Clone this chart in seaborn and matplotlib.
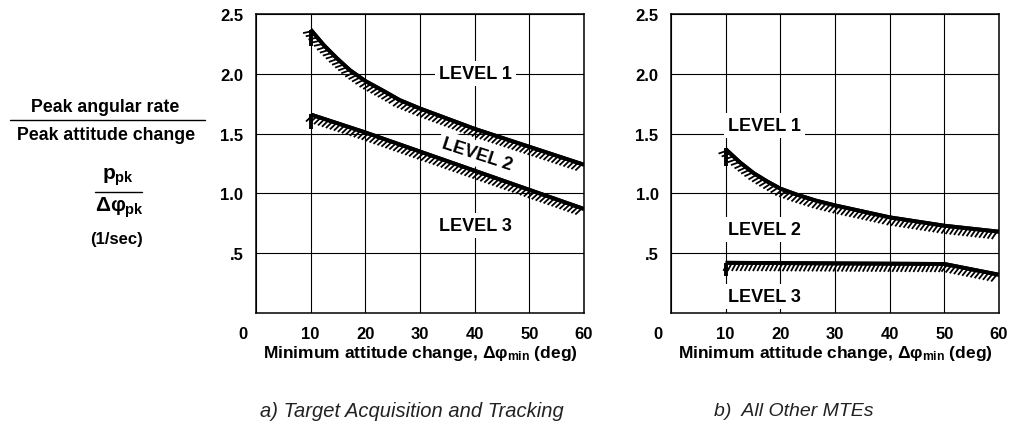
import numpy as np
import pandas as pd
import matplotlib
matplotlib.use("Agg")
import matplotlib.pyplot as plt
import matplotlib.patheffects as pe
from matplotlib.lines import Line2D
from matplotlib.transforms import ScaledTranslation
import seaborn as sns

# boundary data (x = min attitude change, deg)
# a) Target Acquisition and Tracking
a_l1_x = [10, 12.4, 14.8, 17.2, 20, 23.6, 26.3, 30, 40, 50, 60]
a_l1_y = [2.37, 2.24, 2.13, 2.03, 1.94, 1.85, 1.78, 1.71, 1.54, 1.39, 1.24]
a_l2_x = [10, 20, 30, 40, 50, 60]
a_l2_y = [1.66, 1.51, 1.35, 1.19, 1.03, 0.87]

# b) All Other MTEs
b_l1_x = [10, 12.6, 15.1, 17.6, 20, 23, 26.5, 30, 35, 40, 50, 60]
b_l1_y = [1.37, 1.26, 1.17, 1.10, 1.04, 0.99, 0.94, 0.90, 0.85, 0.80, 0.73, 0.68]
b_l2_x = [10, 50, 60]
b_l2_y = [0.42, 0.41, 0.32]

# short vertical stubs where each boundary starts (x = 10)
a_stub_y = [(2.23, 2.37), (1.54, 1.66)]
b_stub_y = [(1.23, 1.38), (0.31, 0.42)]

x_ticks = [0, 10, 20, 30, 40, 50, 60]
y_ticks = [0.5, 1.0, 1.5, 2.0, 2.5]
y_ticklabels = [".5", "1.0", "1.5", "2.0", "2.5"]

sns.set_style("white")
plt.rcParams["font.family"] = ["Liberation Sans", "DejaVu Sans"]
plt.rcParams["text.color"] = "black"
plt.rcParams["axes.labelcolor"] = "black"
plt.rcParams["xtick.color"] = "black"
plt.rcParams["ytick.color"] = "black"
plt.rcParams["mathtext.fontset"] = "custom"
plt.rcParams["mathtext.rm"] = "Liberation Sans:bold"
plt.rcParams["mathtext.it"] = "Liberation Sans:bold"
plt.rcParams["mathtext.bf"] = "Liberation Sans:bold"

fig = plt.figure(figsize=(10.13, 4.27), dpi=100)
ax_a = fig.add_axes([0.2527, 0.2646, 0.3238, 0.7002])
ax_b = fig.add_axes([0.6624, 0.2646, 0.3238, 0.7002])

hatch = [pe.withTickedStroke(spacing=3.0, angle=-118, length=2.2, linewidth=1.3),
         pe.Normal()]


def boundary(ax, xs, ys):
    df = pd.DataFrame({"x": xs, "y": ys})
    sns.lineplot(data=df, x="x", y="y", ax=ax, sort=False, estimator=None,
                 color="black", linewidth=2.8, solid_capstyle="butt",
                 path_effects=hatch, zorder=4)


def stub(ax, y0, y1):
    df = pd.DataFrame({"x": [10, 10], "y": [y0, y1]})
    sns.lineplot(data=df, x="x", y="y", ax=ax, sort=False, estimator=None,
                 color="black", linewidth=2.8, solid_capstyle="butt", zorder=4)


def style_axes(ax):
    ax.set_xlim(0, 60)
    ax.set_ylim(0, 2.5)
    ax.set_xticks(x_ticks)
    ax.set_yticks(y_ticks)
    ax.set_yticklabels(y_ticklabels)
    ax.grid(True, color="black", linewidth=0.8)
    ax.set_axisbelow(True)
    for s in ax.spines.values():
        s.set_color("black")
        s.set_linewidth(1.1)
    ax.tick_params(length=0, labelsize=12, pad=9)
    for lab in ax.get_xticklabels() + ax.get_yticklabels():
        lab.set_fontweight("bold")
    # the "0" sits at the corner of the frame
    zero = ax.get_xticklabels()[0]
    zero.set_transform(zero.get_transform() + ScaledTranslation(-0.13, 0, fig.dpi_scale_trans))
    ax.set_xlabel(r"Minimum attitude change, $\Delta\varphi_{min}$ (deg)",
                  fontsize=12.5, fontweight="bold", labelpad=2)
    ax.set_ylabel("")


boundary(ax_a, a_l1_x, a_l1_y)
boundary(ax_a, a_l2_x, a_l2_y)
boundary(ax_b, b_l1_x, b_l1_y)
boundary(ax_b, b_l2_x, b_l2_y)
for y0, y1 in a_stub_y:
    stub(ax_a, y0, y1)
for y0, y1 in b_stub_y:
    stub(ax_b, y0, y1)
style_axes(ax_a)
style_axes(ax_b)

box = dict(facecolor="white", edgecolor="none", pad=3)
lvl = dict(fontsize=13, fontweight="bold", zorder=5, bbox=box)
ax_a.text(40.2, 2.0, "LEVEL 1", ha="center", va="center", **lvl)
ax_a.text(40.5, 1.33, "LEVEL 2", ha="center", va="center", rotation=-18, **lvl)
ax_a.text(40.2, 0.73, "LEVEL 3", ha="center", va="center", **lvl)
ax_b.text(10.4, 1.57, "LEVEL 1", ha="left", va="center", **lvl)
ax_b.text(10.4, 0.70, "LEVEL 2", ha="left", va="center", **lvl)
ax_b.text(10.4, 0.14, "LEVEL 3", ha="left", va="center", **lvl)

# left-hand y description
fig.text(105 / 1013, 1 - 108 / 427, "Peak angular rate", ha="center", va="center",
         fontsize=12.8, fontweight="bold")
fig.add_artist(Line2D([10 / 1013, 205 / 1013], [1 - 121 / 427] * 2, color="black", lw=1.0))
fig.text(106 / 1013, 1 - 135 / 427, "Peak attitude change", ha="center", va="center",
         fontsize=12.8, fontweight="bold")
fig.text(118 / 1013, 1 - 177 / 427, r"$p_{pk}$", ha="center", va="center", fontsize=15)
fig.add_artist(Line2D([95 / 1013, 142 / 1013], [1 - 193 / 427] * 2, color="black", lw=1.0))
fig.text(119 / 1013, 1 - 208 / 427, r"$\Delta\varphi_{pk}$", ha="center", va="center", fontsize=15)
fig.text(116 / 1013, 1 - 240 / 427, "(1/sec)", ha="center", va="center",
         fontsize=12, fontweight="bold")

# panel captions
fig.text(412 / 1013, 1 - 412 / 427, "a) Target Acquisition and Tracking", ha="center",
         va="center", fontsize=14.5, style="italic", color="#222222")
fig.text(794 / 1013, 1 - 412 / 427, "b)  All Other MTEs", ha="center",
         va="center", fontsize=14, style="italic", color="#222222")

fig.savefig("out.png", dpi=100)
